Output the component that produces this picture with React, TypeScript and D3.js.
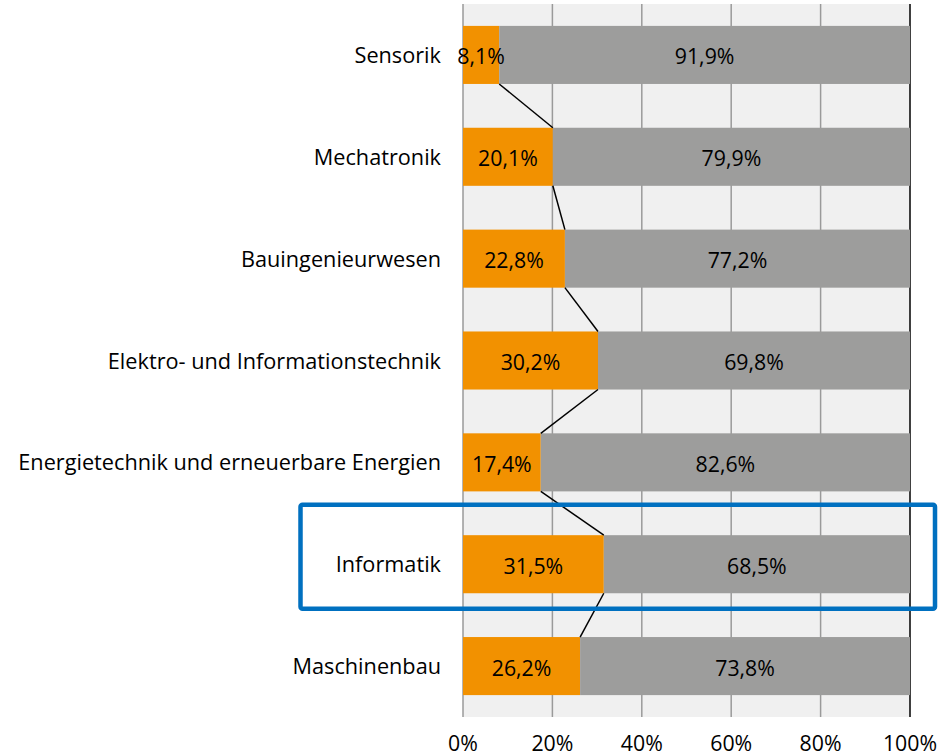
import React from "react";
import * as d3 from "d3";

const categories = [
  "Sensorik",
  "Mechatronik",
  "Bauingenieurwesen",
  "Elektro- und Informationstechnik",
  "Energietechnik und erneuerbare Energien",
  "Informatik",
  "Maschinenbau",
];
const female = [8.1, 20.1, 22.8, 30.2, 17.4, 31.5, 26.2];
const male = [91.9, 79.9, 77.2, 69.8, 82.6, 68.5, 73.8];
const ticks = [0, 20, 40, 60, 80, 100];
const highlighted = "Informatik";

const W = 940;
const H = 756;
const ORANGE = "#f29100";
const GREY = "#9d9d9c";
const FONT = "'Open Sans', sans-serif";
const FS_CAT = 21.7;
const FS_NUM = 21.3;

const fmt = (v: number) => v.toFixed(1).replace(".", ",") + "%";

export default function App() {
  const x = d3.scaleLinear().domain([0, 100]).range([463, 910]);
  const y = d3
    .scaleBand<string>()
    .domain(categories)
    .range([4, 717])
    .paddingInner(0.43)
    .paddingOuter(0.215);
  const bw = y.bandwidth();
  const top = 4;
  const bottom = 717;

  const seriesLines = categories.slice(0, -1).map((c, i) => {
    const next = categories[i + 1];
    return {
      x1: x(female[i]),
      y1: (y(c) as number) + bw,
      x2: x(female[i + 1]),
      y2: y(next) as number,
    };
  });

  const hy = (y(highlighted) as number) + bw / 2;

  return (
    <svg
      width={W}
      height={H}
      style={{ position: "absolute", left: 0, top: 0, background: "#fff", fontVariantLigatures: "none" }}
      fontFamily={FONT}
    >
      <rect x={x(0)} y={top} width={x(100) - x(0)} height={bottom - top} fill="#f0f0f0" />
      {ticks.map((t) => (
        <line
          key={t}
          x1={x(t)}
          x2={x(t)}
          y1={top}
          y2={bottom}
          stroke={t === 100 ? "#000" : "#9a9a9a"}
          strokeWidth={1.5}
        />
      ))}
      {categories.map((c, i) => {
        const cy = (y(c) as number) + bw / 2;
        return (
          <g key={c}>
            <rect x={x(0)} y={y(c)} width={x(female[i]) - x(0)} height={bw} fill={ORANGE} />
            <rect
              x={x(female[i])}
              y={y(c)}
              width={x(female[i] + male[i]) - x(female[i])}
              height={bw}
              fill={GREY}
            />
            <text
              x={(x(0) + x(female[i])) / 2}
              y={cy + 9.5}
              textAnchor="middle"
              fontSize={FS_NUM}
              fill="#000"
            >
              {fmt(female[i])}
            </text>
            <text
              x={(x(female[i]) + x(female[i] + male[i])) / 2}
              y={cy + 9.5}
              textAnchor="middle"
              fontSize={FS_NUM}
              fill="#000"
            >
              {fmt(male[i])}
            </text>
            <text x={441} y={cy + 8} textAnchor="end" fontSize={FS_CAT} fill="#000">
              {c}
            </text>
          </g>
        );
      })}
      {seriesLines.map((l, i) => (
        <line key={i} x1={l.x1} y1={l.y1} x2={l.x2} y2={l.y2} stroke="#000" strokeWidth={1.5} />
      ))}
      {ticks.map((t) => (
        <text key={t} x={x(t)} y={751} textAnchor="middle" fontSize={FS_NUM} fill="#000">
          {t}%
        </text>
      ))}
      <rect
        x={300.5}
        y={hy - 59.5}
        width={634.5}
        height={104}
        fill="none"
        stroke="#0070c0"
        strokeWidth={4.5}
        rx={2}
      />
    </svg>
  );
}
